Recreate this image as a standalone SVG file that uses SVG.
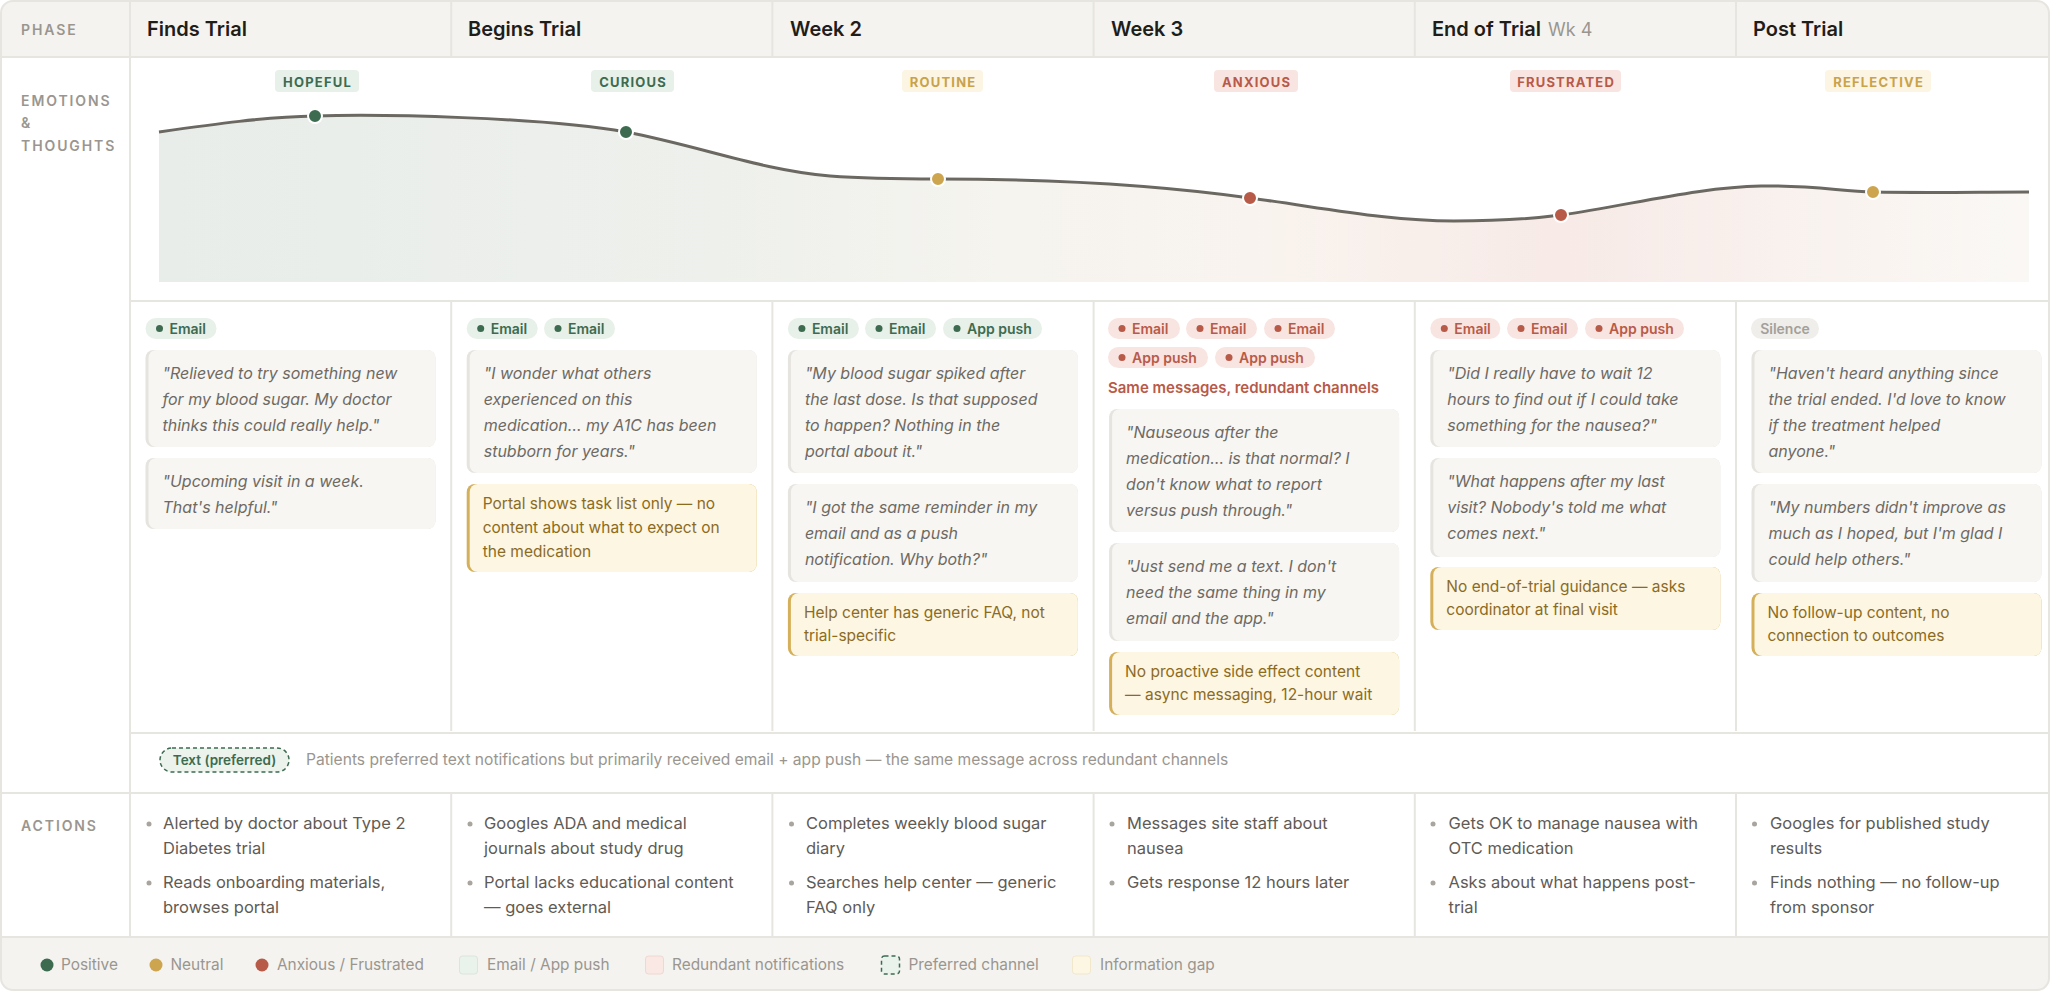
<svg xmlns="http://www.w3.org/2000/svg" width="2050" height="992" viewBox="0 0 2050 992">
<defs>
<style>
text{font-family:Inter,"Noto Sans","Liberation Sans",sans-serif}
.lbl{font-size:14px;font-weight:600;letter-spacing:1.9px;fill:#9A968F}
.hdr{font-size:20px;font-weight:600;fill:#1F1D1A}
.wk{font-size:18px;font-weight:400;fill:#9A968F}
.emo{font-size:13px;font-weight:700;letter-spacing:1.2px;text-anchor:middle}
.chip{font-size:14px;font-weight:600}
.q{font-size:16px;font-style:italic;fill:#6E6A63}
.gap{font-size:15.5px;fill:#8B6B1F}
.act{font-size:16.5px;fill:#5F5B55}
.note{font-size:15.6px;fill:#9A968F}
.leg{font-size:15.4px;fill:#9A968F}
.ln{stroke:#E7E5E0;stroke-width:2;fill:none}
.qo{fill:#E6E4DF}.qi{fill:#F7F6F3}
.go{fill:#D4B05A}.gi{fill:#FDF6E3}
.pg{fill:#E7F0E9}.tg{fill:#3D6B50}
.pr{fill:#F8E5E1}.tr{fill:#B85A48}
.py{fill:#FCF5E3}.ty{fill:#C9A24A}
.bul{fill:#A9A59E}
</style>
<clipPath id="box"><rect x="1" y="1" width="2048" height="989" rx="12"/></clipPath>
<linearGradient id="area" x1="159" y1="0" x2="2029" y2="0" gradientUnits="userSpaceOnUse">
<stop offset="0" stop-color="#E8EDEA"/>
<stop offset="0.3" stop-color="#EEF0EC"/>
<stop offset="0.45" stop-color="#F5F4EF"/>
<stop offset="0.6" stop-color="#F9F3EE"/>
<stop offset="0.75" stop-color="#F7EAE7"/>
<stop offset="0.9" stop-color="#F9F3EF"/>
<stop offset="1" stop-color="#FAF8F5"/>
</linearGradient>
</defs>

<g id="frame" clip-path="url(#box)">
<rect x="0" y="0" width="2050" height="992" fill="#FFFFFF"/>
<rect x="0" y="0" width="2050" height="57" fill="#F4F3EF"/>
<rect x="0" y="937" width="2050" height="55" fill="#F4F3EF"/>
<line class="ln" x1="0" y1="57" x2="2050" y2="57"/>
<line class="ln" x1="130" y1="301" x2="2050" y2="301" stroke-width="1.5"/>
<line class="ln" x1="130" y1="733" x2="2050" y2="733" stroke-width="3.5"/>
<line class="ln" x1="0" y1="793" x2="2050" y2="793"/>
<line class="ln" x1="0" y1="937" x2="2050" y2="937"/>
<line class="ln" x1="130" y1="0" x2="130" y2="937"/>
<path class="ln" d="M451.2,0V57M772.4,0V57M1093.6,0V57M1414.8,0V57M1736,0V57"/>
<path class="ln" d="M451.2,301V731M772.4,301V731M1093.6,301V731M1414.8,301V731M1736,301V731"/>
<path class="ln" d="M451.2,793V937M772.4,793V937M1093.6,793V937M1414.8,793V937M1736,793V937"/>
</g>
<rect x="1" y="1" width="2048" height="989" rx="12" fill="none" stroke="#E7E5E0" stroke-width="2"/>

<g id="row-labels">
<text class="lbl" x="21" y="35">PHASE</text>
<text class="lbl" x="21" y="106">EMOTIONS</text>
<text class="lbl" x="21" y="128">&amp;</text>
<text class="lbl" x="21" y="151">THOUGHTS</text>
<text class="lbl" x="21" y="831">ACTIONS</text>
</g>

<g id="phase-headers">
<text class="hdr" x="147" y="36">Finds Trial</text>
<text class="hdr" x="468" y="36">Begins Trial</text>
<text class="hdr" x="790" y="36">Week 2</text>
<text class="hdr" x="1111" y="36">Week 3</text>
<text class="hdr" x="1432" y="36">End of Trial <tspan class="wk" dx="2">Wk 4</tspan></text>
<text class="hdr" x="1753" y="36">Post Trial</text>
</g>

<g id="emotion-chart">
<path d="M159,132 C215,124 265,117 315,116 C380,114 540,117 626,132 C700,146 760,170 830,176 C870,179 900,179 938,179 C1050,179 1150,184 1250,198 C1330,209 1390,221 1454,221 C1500,221 1530,219 1561,215 C1630,205 1700,187 1761,186 C1810,185 1840,191 1873,192 C1930,193 1980,192 2029,192 L2029,282 L159,282 Z" fill="url(#area)"/>
</g>
<g id="emotion-curve">
<path d="M159,132 C215,124 265,117 315,116 C380,114 540,117 626,132 C700,146 760,170 830,176 C870,179 900,179 938,179 C1050,179 1150,184 1250,198 C1330,209 1390,221 1454,221 C1500,221 1530,219 1561,215 C1630,205 1700,187 1761,186 C1810,185 1840,191 1873,192 C1930,193 1980,192 2029,192" fill="none" stroke="#6B6862" stroke-width="3"/>
</g>

<g id="emotion-hopeful"><rect class="pg" x="275" y="70" width="84" height="22" rx="4"/><text class="emo tg" x="317.6" y="86.5">HOPEFUL</text><circle cx="315" cy="116" r="7" fill="#3D6B50" stroke="#fff" stroke-width="2"/></g>
<g id="emotion-curious"><rect class="pg" x="591" y="70" width="83" height="22" rx="4"/><text class="emo tg" x="633.1" y="86.5">CURIOUS</text><circle cx="626" cy="132" r="7" fill="#3D6B50" stroke="#fff" stroke-width="2"/></g>
<g id="emotion-routine"><rect class="py" x="902" y="70" width="81" height="22" rx="4"/><text class="emo ty" x="943.1" y="86.5">ROUTINE</text><circle cx="938" cy="179" r="7" fill="#CDA54E" stroke="#fff" stroke-width="2"/></g>
<g id="emotion-anxious"><rect class="pr" x="1214" y="70" width="84" height="22" rx="4"/><text class="emo tr" x="1256.6" y="86.5">ANXIOUS</text><circle cx="1250" cy="198" r="7" fill="#B85A48" stroke="#fff" stroke-width="2"/></g>
<g id="emotion-frustrated"><rect class="pr" x="1510" y="70" width="111" height="22" rx="4"/><text class="emo tr" x="1566.1" y="86.5">FRUSTRATED</text><circle cx="1561" cy="215" r="7" fill="#B85A48" stroke="#fff" stroke-width="2"/></g>
<g id="emotion-reflective"><rect class="py" x="1825" y="70" width="106" height="22" rx="4"/><text class="emo ty" x="1878.6" y="86.5">REFLECTIVE</text><circle cx="1873" cy="192" r="7" fill="#CDA54E" stroke="#fff" stroke-width="2"/></g>

<!-- Column 1 -->
<g id="c1-chips"><rect class="pg" x="145.5" y="318" width="71" height="21" rx="10.5"/><circle class="tg" cx="159.5" cy="328.5" r="3.5"/><text class="chip tg" x="169.5" y="333.5">Email</text></g>
<g id="c1-q1"><rect class="qo" x="145.5" y="350" width="290" height="97" rx="8"/><rect class="qi" x="148.5" y="350" width="287" height="97" rx="8"/>
<text class="q"><tspan x="162.5" y="379">"Relieved to try something new</tspan><tspan x="162.5" y="405">for my blood sugar. My doctor</tspan><tspan x="162.5" y="431">thinks this could really help."</tspan></text></g>
<g id="c1-q2"><rect class="qo" x="145.5" y="458" width="290" height="71" rx="8"/><rect class="qi" x="148.5" y="458" width="287" height="71" rx="8"/>
<text class="q"><tspan x="162.5" y="487">"Upcoming visit in a week.</tspan><tspan x="162.5" y="513">That's helpful."</tspan></text></g>

<!-- Column 2 -->
<g id="c2-chips"><rect class="pg" x="466.7" y="318" width="71" height="21" rx="10.5"/><circle class="tg" cx="480.7" cy="328.5" r="3.5"/><text class="chip tg" x="490.7" y="333.5">Email</text>
<rect class="pg" x="544" y="318" width="71" height="21" rx="10.5"/><circle class="tg" cx="558" cy="328.5" r="3.5"/><text class="chip tg" x="568" y="333.5">Email</text></g>
<g id="c2-q1"><rect class="qo" x="466.7" y="350" width="290" height="123" rx="8"/><rect class="qi" x="469.7" y="350" width="287" height="123" rx="8"/>
<text class="q"><tspan x="483.7" y="379">"I wonder what others</tspan><tspan x="483.7" y="405">experienced on this</tspan><tspan x="483.7" y="431">medication… my A1C has been</tspan><tspan x="483.7" y="457">stubborn for years."</tspan></text></g>
<g id="c2-gap"><rect class="go" x="466.7" y="484" width="290" height="88" rx="8"/><rect class="gi" x="469.7" y="484" width="287" height="88" rx="8"/>
<text class="gap"><tspan x="482.7" y="509">Portal shows task list only — no</tspan><tspan x="482.7" y="533">content about what to expect on</tspan><tspan x="482.7" y="557">the medication</tspan></text></g>

<!-- Column 3 -->
<g id="c3-chips"><rect class="pg" x="787.9" y="318" width="71" height="21" rx="10.5"/><circle class="tg" cx="801.9" cy="328.5" r="3.5"/><text class="chip tg" x="811.9" y="333.5">Email</text>
<rect class="pg" x="865" y="318" width="71" height="21" rx="10.5"/><circle class="tg" cx="879" cy="328.5" r="3.5"/><text class="chip tg" x="889" y="333.5">Email</text>
<rect class="pg" x="943" y="318" width="99" height="21" rx="10.5"/><circle class="tg" cx="957" cy="328.5" r="3.5"/><text class="chip tg" x="967" y="333.5">App push</text></g>
<g id="c3-q1"><rect class="qo" x="787.9" y="350" width="290" height="123" rx="8"/><rect class="qi" x="790.9" y="350" width="287" height="123" rx="8"/>
<text class="q"><tspan x="804.9" y="379">"My blood sugar spiked after</tspan><tspan x="804.9" y="405">the last dose. Is that supposed</tspan><tspan x="804.9" y="431">to happen? Nothing in the</tspan><tspan x="804.9" y="457">portal about it."</tspan></text></g>
<g id="c3-q2"><rect class="qo" x="787.9" y="484" width="290" height="98" rx="8"/><rect class="qi" x="790.9" y="484" width="287" height="98" rx="8"/>
<text class="q"><tspan x="804.9" y="513">"I got the same reminder in my</tspan><tspan x="804.9" y="539">email and as a push</tspan><tspan x="804.9" y="565">notification. Why both?"</tspan></text></g>
<g id="c3-gap"><rect class="go" x="787.9" y="593" width="290" height="63" rx="8"/><rect class="gi" x="790.9" y="593" width="287" height="63" rx="8"/>
<text class="gap"><tspan x="803.9" y="618">Help center has generic FAQ, not</tspan><tspan x="803.9" y="641">trial-specific</tspan></text></g>

<!-- Column 4 -->
<g id="c4-chips"><rect class="pr" x="1108" y="318" width="72" height="21" rx="10.5"/><circle class="tr" cx="1122" cy="328.5" r="3.5"/><text class="chip tr" x="1132" y="333.5">Email</text>
<rect class="pr" x="1186" y="318" width="71" height="21" rx="10.5"/><circle class="tr" cx="1200" cy="328.5" r="3.5"/><text class="chip tr" x="1210" y="333.5">Email</text>
<rect class="pr" x="1264" y="318" width="71" height="21" rx="10.5"/><circle class="tr" cx="1278" cy="328.5" r="3.5"/><text class="chip tr" x="1288" y="333.5">Email</text>
<rect class="pr" x="1108" y="347" width="100" height="21" rx="10.5"/><circle class="tr" cx="1122" cy="357.5" r="3.5"/><text class="chip tr" x="1132" y="362.5">App push</text>
<rect class="pr" x="1215" y="347" width="100" height="21" rx="10.5"/><circle class="tr" cx="1229" cy="357.5" r="3.5"/><text class="chip tr" x="1239" y="362.5">App push</text></g>
<g id="c4-redundant"><text class="tr" x="1108" y="393" font-size="15" font-weight="600">Same messages, redundant channels</text></g>
<g id="c4-q1"><rect class="qo" x="1109.1" y="409" width="290" height="123" rx="8"/><rect class="qi" x="1112.1" y="409" width="287" height="123" rx="8"/>
<text class="q"><tspan x="1126.1" y="438">"Nauseous after the</tspan><tspan x="1126.1" y="464">medication… is that normal? I</tspan><tspan x="1126.1" y="490">don't know what to report</tspan><tspan x="1126.1" y="516">versus push through."</tspan></text></g>
<g id="c4-q2"><rect class="qo" x="1109.1" y="543" width="290" height="98" rx="8"/><rect class="qi" x="1112.1" y="543" width="287" height="98" rx="8"/>
<text class="q"><tspan x="1126.1" y="572">"Just send me a text. I don't</tspan><tspan x="1126.1" y="598">need the same thing in my</tspan><tspan x="1126.1" y="624">email and the app."</tspan></text></g>
<g id="c4-gap"><rect class="go" x="1109.1" y="652" width="290" height="63" rx="8"/><rect class="gi" x="1112.1" y="652" width="287" height="63" rx="8"/>
<text class="gap"><tspan x="1125.1" y="677">No proactive side effect content</tspan><tspan x="1125.1" y="700">— async messaging, 12-hour wait</tspan></text></g>

<!-- Column 5 -->
<g id="c5-chips"><rect class="pr" x="1430.3" y="318" width="70" height="21" rx="10.5"/><circle class="tr" cx="1444.3" cy="328.5" r="3.5"/><text class="chip tr" x="1454.3" y="333.5">Email</text>
<rect class="pr" x="1507" y="318" width="71" height="21" rx="10.5"/><circle class="tr" cx="1521" cy="328.5" r="3.5"/><text class="chip tr" x="1531" y="333.5">Email</text>
<rect class="pr" x="1585" y="318" width="99" height="21" rx="10.5"/><circle class="tr" cx="1599" cy="328.5" r="3.5"/><text class="chip tr" x="1609" y="333.5">App push</text></g>
<g id="c5-q1"><rect class="qo" x="1430.3" y="350" width="290" height="97" rx="8"/><rect class="qi" x="1433.3" y="350" width="287" height="97" rx="8"/>
<text class="q"><tspan x="1447.3" y="379">"Did I really have to wait 12</tspan><tspan x="1447.3" y="405">hours to find out if I could take</tspan><tspan x="1447.3" y="431">something for the nausea?"</tspan></text></g>
<g id="c5-q2"><rect class="qo" x="1430.3" y="458" width="290" height="99" rx="8"/><rect class="qi" x="1433.3" y="458" width="287" height="99" rx="8"/>
<text class="q"><tspan x="1447.3" y="487">"What happens after my last</tspan><tspan x="1447.3" y="513">visit? Nobody's told me what</tspan><tspan x="1447.3" y="539">comes next."</tspan></text></g>
<g id="c5-gap"><rect class="go" x="1430.3" y="567" width="290" height="63" rx="8"/><rect class="gi" x="1433.3" y="567" width="287" height="63" rx="8"/>
<text class="gap"><tspan x="1446.3" y="592">No end-of-trial guidance — asks</tspan><tspan x="1446.3" y="615">coordinator at final visit</tspan></text></g>

<!-- Column 6 -->
<g id="c6-chips"><rect x="1751" y="318" width="68" height="21" rx="10.5" fill="#EFEEEA"/><text class="chip" x="1785" y="333.5" text-anchor="middle" fill="#A3A09A">Silence</text></g>
<g id="c6-q1"><rect class="qo" x="1751.5" y="350" width="290" height="123" rx="8"/><rect class="qi" x="1754.5" y="350" width="287" height="123" rx="8"/>
<text class="q"><tspan x="1768.5" y="379">"Haven't heard anything since</tspan><tspan x="1768.5" y="405">the trial ended. I'd love to know</tspan><tspan x="1768.5" y="431">if the treatment helped</tspan><tspan x="1768.5" y="457">anyone."</tspan></text></g>
<g id="c6-q2"><rect class="qo" x="1751.5" y="484" width="290" height="98" rx="8"/><rect class="qi" x="1754.5" y="484" width="287" height="98" rx="8"/>
<text class="q"><tspan x="1768.5" y="513">"My numbers didn't improve as</tspan><tspan x="1768.5" y="539">much as I hoped, but I'm glad I</tspan><tspan x="1768.5" y="565">could help others."</tspan></text></g>
<g id="c6-gap"><rect class="go" x="1751.5" y="593" width="290" height="63" rx="8"/><rect class="gi" x="1754.5" y="593" width="287" height="63" rx="8"/>
<text class="gap"><tspan x="1767.5" y="618">No follow-up content, no</tspan><tspan x="1767.5" y="641">connection to outcomes</tspan></text></g>

<g id="channel-note">
<rect x="160" y="748" width="129" height="24" rx="12" fill="#EBF3EC" stroke="#3D6B50" stroke-width="1.5" stroke-dasharray="4 3"/>
<text class="tg" x="224.5" y="765" text-anchor="middle" font-size="13.5" font-weight="600">Text (preferred)</text>
<text class="note" x="306" y="765">Patients preferred text notifications but primarily received email + app push — the same message across redundant channels</text>
</g>

<g id="actions">
<circle class="bul" cx="149" cy="824" r="2.5"/><text class="act"><tspan x="163" y="829">Alerted by doctor about Type 2</tspan><tspan x="163" y="854">Diabetes trial</tspan></text>
<circle class="bul" cx="149" cy="883" r="2.5"/><text class="act"><tspan x="163" y="888">Reads onboarding materials,</tspan><tspan x="163" y="913">browses portal</tspan></text>

<circle class="bul" cx="470" cy="824" r="2.5"/><text class="act"><tspan x="484" y="829">Googles ADA and medical</tspan><tspan x="484" y="854">journals about study drug</tspan></text>
<circle class="bul" cx="470" cy="883" r="2.5"/><text class="act"><tspan x="484" y="888">Portal lacks educational content</tspan><tspan x="484" y="913">— goes external</tspan></text>

<circle class="bul" cx="791.5" cy="824" r="2.5"/><text class="act"><tspan x="806" y="829">Completes weekly blood sugar</tspan><tspan x="806" y="854">diary</tspan></text>
<circle class="bul" cx="791.5" cy="883" r="2.5"/><text class="act"><tspan x="806" y="888">Searches help center — generic</tspan><tspan x="806" y="913">FAQ only</tspan></text>

<circle class="bul" cx="1112" cy="824" r="2.5"/><text class="act"><tspan x="1127" y="829">Messages site staff about</tspan><tspan x="1127" y="854">nausea</tspan></text>
<circle class="bul" cx="1112" cy="883" r="2.5"/><text class="act"><tspan x="1127" y="888">Gets response 12 hours later</tspan></text>

<circle class="bul" cx="1433" cy="824" r="2.5"/><text class="act"><tspan x="1448.5" y="829">Gets OK to manage nausea with</tspan><tspan x="1448.5" y="854">OTC medication</tspan></text>
<circle class="bul" cx="1433" cy="883" r="2.5"/><text class="act"><tspan x="1448.5" y="888">Asks about what happens post-</tspan><tspan x="1448.5" y="913">trial</tspan></text>

<circle class="bul" cx="1754.5" cy="824" r="2.5"/><text class="act"><tspan x="1770" y="829">Googles for published study</tspan><tspan x="1770" y="854">results</tspan></text>
<circle class="bul" cx="1754.5" cy="883" r="2.5"/><text class="act"><tspan x="1770" y="888">Finds nothing — no follow-up</tspan><tspan x="1770" y="913">from sponsor</tspan></text>
</g>

<g id="legend">
<circle cx="47" cy="965" r="6.5" fill="#3D6B50"/><text class="leg" x="61" y="970">Positive</text>
<circle cx="156" cy="965" r="6.5" fill="#CDA54E"/><text class="leg" x="170.5" y="970">Neutral</text>
<circle cx="262" cy="965" r="6.5" fill="#B85A48"/><text class="leg" x="277" y="970">Anxious / Frustrated</text>
<rect x="459.5" y="956" width="18" height="18" rx="3" fill="#EAF2EC" stroke="#D9E6DC"/><text class="leg" x="487" y="970">Email / App push</text>
<rect x="645.5" y="956" width="18" height="18" rx="3" fill="#F9E8E4" stroke="#F0D8D2"/><text class="leg" x="672" y="970">Redundant notifications</text>
<rect x="881.5" y="956" width="18" height="18" rx="3" fill="#EAF2EC" stroke="#3D6B50" stroke-width="1.5" stroke-dasharray="4 3"/><text class="leg" x="908.5" y="970">Preferred channel</text>
<rect x="1072.5" y="956" width="18" height="18" rx="3" fill="#FDF6E3" stroke="#F1E7CB"/><text class="leg" x="1100" y="970">Information gap</text>
</g>
</svg>
